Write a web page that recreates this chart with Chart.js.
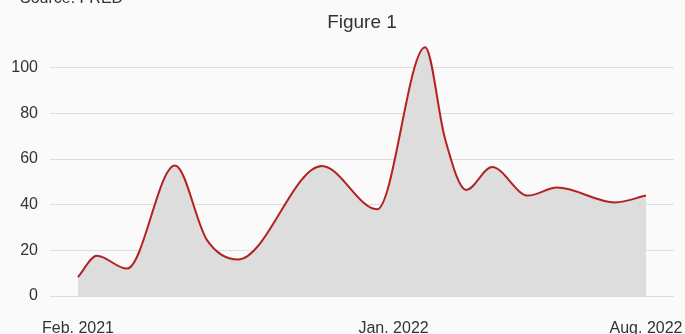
<!DOCTYPE html>
<html><head><meta charset="utf-8">
<style>html,body{margin:0;padding:0;background:#fafafa;}#wrap{width:685px;height:334px;}</style>
<script src="https://cdn.jsdelivr.net/npm/chart.js@4/dist/chart.umd.min.js"></script>
</head><body><div id="wrap"><canvas id="c" width="685" height="334"></canvas></div>
<script>
// x = months since Feb. 2021 (fractional)
const monthIndex = [0.00, 0.60, 1.55, 3.07, 4.09, 5.07, 7.73, 9.48, 11.00, 11.63, 12.30, 13.12, 14.26, 15.18, 17.02, 18.00];
const values     = [8.3, 17.6, 12, 57.2, 24.5, 16, 57, 38, 109, 69, 46.5, 56.5, 44, 47.5, 41, 44];
const xTickPositions = [0, 10, 18];
const xTickLabels = ['Feb. 2021', 'Jan. 2022', 'Aug. 2022'];
const yTicks = [0, 20, 40, 60, 80, 100];
const titleText = 'Figure 1';
const sourceText = 'Source: FRED';

const FONT = '"Liberation Sans", Arial, sans-serif';
const points = monthIndex.map((m, i) => ({x: m, y: values[i]}));

const deco = {
  id: 'deco',
  beforeDraw(chart) {
    const ctx = chart.ctx;
    ctx.save();
    ctx.fillStyle = '#fafafa';
    ctx.fillRect(0, 0, chart.width, chart.height);
    ctx.restore();
  },
  afterDraw(chart) {
    const ctx = chart.ctx, ca = chart.chartArea;
    ctx.save();
    ctx.fillStyle = '#333333';
    ctx.textBaseline = 'alphabetic';
    ctx.textAlign = 'left';
    ctx.font = '16px ' + FONT;
    ctx.fillText(sourceText, 20, 3);
    ctx.textAlign = 'center';
    ctx.font = '19px ' + FONT;
    ctx.fillText(titleText, (ca.left + ca.right) / 2, 28);
    ctx.restore();
  }
};

new Chart(document.getElementById('c'), {
  type: 'line',
  data: {
    datasets: [{
      data: points,
      borderColor: '#b22222',
      borderWidth: 2,
      backgroundColor: '#dddddd',
      fill: 'origin',
      pointRadius: 0,
      cubicInterpolationMode: 'monotone'
    }]
  },
  options: {
    responsive: false,
    animation: false,
    devicePixelRatio: 1,
    layout: {padding: {top: 45, right: 11, left: 0, bottom: 0}},
    plugins: {legend: {display: false}, title: {display: false}, tooltip: {enabled: false}},
    scales: {
      x: {
        type: 'linear',
        min: -0.887,
        max: 18.887,
        grid: {display: false},
        border: {display: false},
        ticks: {
          font: {size: 16, family: FONT},
          color: '#333333',
          padding: 15,
          maxRotation: 0,
          autoSkip: false,
          callback: (v) => {
            const i = xTickPositions.indexOf(v);
            return i >= 0 ? xTickLabels[i] : '';
          }
        },
        afterBuildTicks: (s) => { s.ticks = xTickPositions.map(v => ({value: v})); },
        afterFit: (s) => { s.height = 38; s.paddingLeft = 0; s.paddingRight = 0; }
      },
      y: {
        min: 0,
        max: 110,
        grid: {color: '#dddddd', drawTicks: false, lineWidth: 1},
        border: {display: false},
        ticks: {
          font: {size: 16, family: FONT},
          color: '#333333',
          padding: 12
        },
        afterBuildTicks: (s) => { s.ticks = yTicks.map(v => ({value: v})); },
        afterFit: (s) => { s.width = 50; s.paddingTop = 0; s.paddingBottom = 0; }
      }
    }
  },
  plugins: [deco]
});
</script>
</body></html>
